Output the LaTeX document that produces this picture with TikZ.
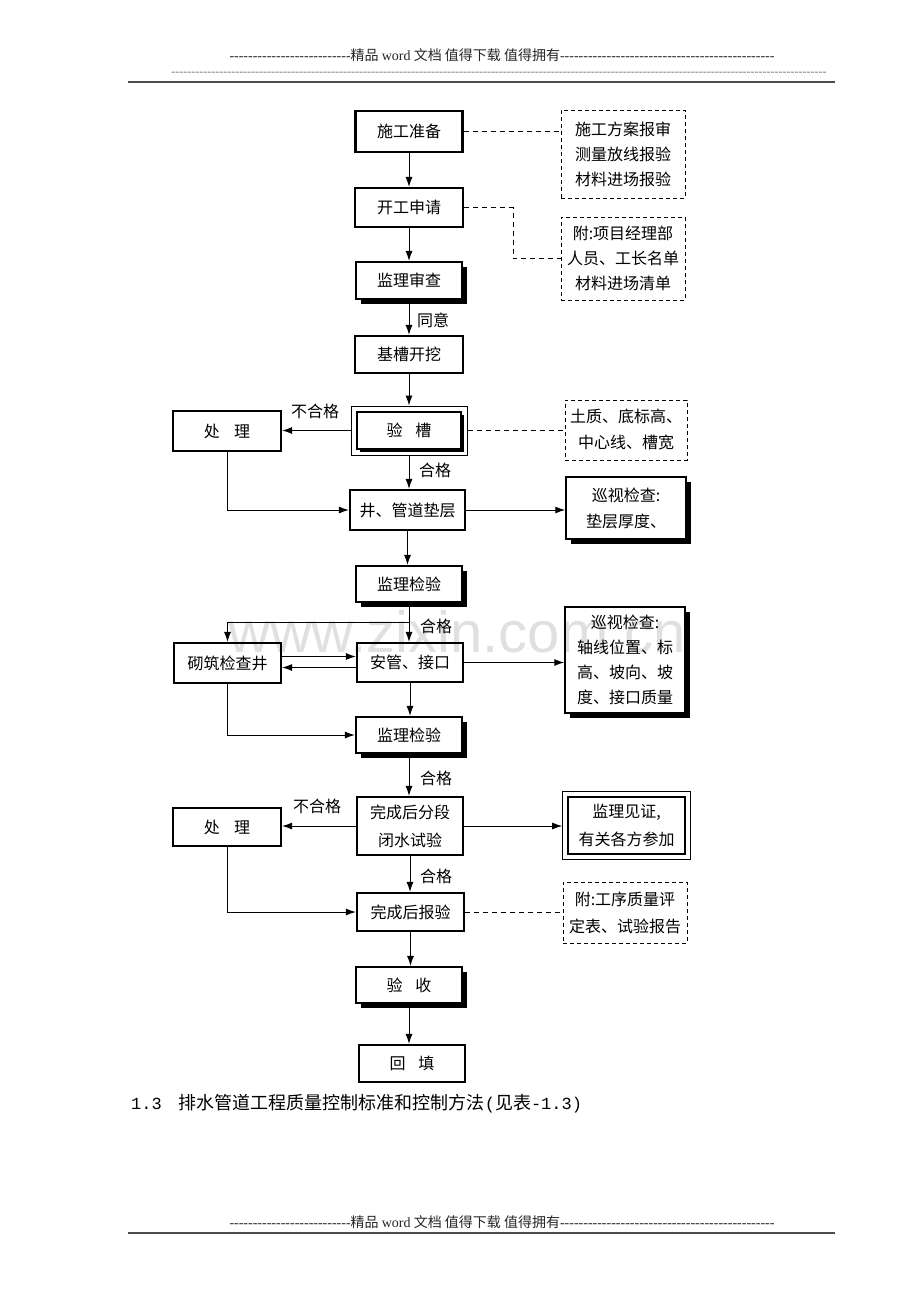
\documentclass[tikz,border=0pt]{standalone}
\usepackage{fontspec}
\setmainfont{Noto Sans CJK SC}
\newfontfamily\lat{Liberation Serif}
\newfontfamily\cjk{Noto Sans CJK SC}
\newfontfamily\mono{Liberation Mono}
\newfontfamily\wmfont{Liberation Sans}
\usetikzlibrary{arrows.meta,shadows,fit,calc}
\ExplSyntaxOn
\NewDocumentCommand\reph{m}{\prg_replicate:nn{#1}{-\kern0pt}}
\ExplSyntaxOff
\newcommand\mn[1]{{\mono\fontsize{17}{17}\selectfont #1}}
\tikzset{
  every node/.style={inner sep=0pt, font=\fontsize{16}{25}\selectfont},
  box/.style={draw, line width=2.2pt, fill=white, align=center},
  shbox/.style={box, drop shadow={shadow xshift=4.5pt, shadow yshift=-4.5pt, fill=black, opacity=1}},
  smshbox/.style={box, drop shadow={shadow xshift=2.5pt, shadow yshift=-2.5pt, fill=black, opacity=1}},
  dbox/.style={draw, line width=0.9pt, dash pattern=on 4pt off 3pt, fill=white, align=center},
  arr/.style={line width=1pt, -{Latex[length=10pt,width=7pt]}},
  dcon/.style={line width=1pt, dash pattern=on 5pt off 4pt},
  lbl/.style={font=\fontsize{16}{16}\selectfont}
}
\begin{document}
\begin{tikzpicture}[x=1pt,y=-1pt]
\useasboundingbox (0,0) rectangle (920,1302);
% header
\node[text=black!85, font=\fontsize{14}{14}\selectfont] (h1) at (502,55)
  {{\lat\reph{26}}{\cjk 精品} {\lat word} {\cjk 文档 值得下载 值得拥有}{\lat\reph{46}}};
\node[text=black!55, font=\lat\fontsize{12}{12}\selectfont] (h2) at (499,74) {\reph{164}};
\draw[line width=2pt, black!70] (128,82) -- (835,82);
% footer
\node[text=black!85, font=\fontsize{14}{14}\selectfont] (f1) at (502,1222)
  {{\lat\reph{26}}{\cjk 精品} {\lat word} {\cjk 文档 值得下载 值得拥有}{\lat\reph{46}}};
\draw[line width=2pt, black!70] (128,1233) -- (835,1233);
% caption
\node[anchor=base west, font=\fontsize{18}{18}\selectfont] (cap) at (131,1109)
  {\mn{1.3}\hspace{17pt}排水管道工程质量控制标准和控制方法\mn{(}见表\mn{-1.3)}};

% main column
\node[box, minimum width=107, minimum height=41] (n1) at (409,131.5) {施工准备};
\node[box, minimum width=108, minimum height=39] (n2) at (409,207.5) {开工申请};
\node[shbox, minimum width=106, minimum height=37] (n3) at (409,280.5) {监理审查};
\node[box, minimum width=108, minimum height=37] (n4) at (409,354.5) {基槽开挖};
\node[smshbox, minimum width=104, minimum height=37] (n5) at (409,430.5) {验\hspace{0.8em}槽};
\node[fit=(n5), draw, line width=0.8pt, inner sep=5pt] (n5o) {};
\node[box, minimum width=108, minimum height=40] (p1) at (227,431) {处\hspace{0.9em}理};
\node[box, minimum width=115, minimum height=40] (n6) at (407.5,510) {井、管道垫层};
\node[shbox, minimum width=106, minimum height=36] (n7) at (409,584) {监理检验};
\node[box, minimum width=107, minimum height=40] (q) at (227.5,663) {砌筑检查井};
\node[box, minimum width=106, minimum height=39] (n8) at (410,662.5) {安管、接口};
\node[shbox, minimum width=106, minimum height=36] (n9) at (409,735) {监理检验};
\node[box, minimum width=106, minimum height=58, font=\fontsize{16}{28}\selectfont] (n10) at (410,826) {完成后分段\\闭水试验};
\node[box, minimum width=108, minimum height=38] (p2) at (227,827) {处\hspace{0.9em}理};
\node[box, minimum width=107, minimum height=38] (n11) at (410.5,912) {完成后报验};
\node[shbox, minimum width=106, minimum height=36] (n12) at (409,985) {验\hspace{0.8em}收};
\node[box, minimum width=106, minimum height=37] (n13) at (412,1063.5) {回\hspace{0.8em}填};

% right column
\node[dbox, minimum width=124, minimum height=88] (d1) at (623,154) {施工方案报审\\测量放线报验\\材料进场报验};
\node[dbox, minimum width=124, minimum height=83] (d2) at (623,258.5) {附:项目经理部\\人员、工长名单\\材料进场清单};
\node[dbox, minimum width=122, minimum height=60, font=\fontsize{16}{26}\selectfont] (d3) at (626,430) {土质、底标高、\\中心线、槽宽};
\node[shbox, line width=1.5pt, minimum width=120, minimum height=62, font=\fontsize{16}{26}\selectfont] (s1) at (626,508) {巡视检查:\\垫层厚度、};
\node[shbox, line width=1.5pt, minimum width=120, minimum height=106] (s2) at (625,660) {巡视检查:\\轴线位置、标\\高、坡向、坡\\度、接口质量};
\node[box, line width=2.8pt, minimum width=117, minimum height=57, font=\fontsize{16}{28}\selectfont] (w) at (626.5,825.5) {监理见证,\\有关各方参加};
\node[fit=(w), draw, line width=0.8pt, inner sep=4pt] (wo) {};
\node[dbox, minimum width=124, minimum height=61, font=\fontsize{16}{27}\selectfont] (d4) at (625,912.5) {附:工序质量评\\定表、试验报告};

% vertical arrows
\draw[arr] (n1.south) -- (n1.south |- n2.north);
\draw[arr] (n2.south) -- (n2.south |- n3.north);
\draw[arr] (n3.south) -- (n3.south |- n4.north);
\draw[arr] (n4.south) -- (n4.south |- n5o.north);
\draw[arr] (n5o.south) -- (n5o.south |- n6.north);
\draw[arr] (n6.south) -- (n6.south |- n7.north);
\draw[arr] (n7.south) -- (n7.south |- n8.north);
\draw[arr] (n8.south) -- (n8.south |- n9.north);
\draw[arr] (n9.south) -- (n9.south |- n10.north);
\draw[arr] (n10.south) -- (n10.south |- n11.north);
\draw[arr] (n11.south) -- (n11.south |- n12.north);
\draw[arr] (n12.south) -- (n12.south |- n13.north);

% side connections
\draw[dcon] (n1.east) -- (n1.east -| d1.west);
\coordinate (k2) at (513,207.5);
\draw[dcon] (n2.east) -- (k2) |- (d2.west);
\draw[arr] (n5o.west) -- (n5o.west -| p1.east);
\draw[dcon] (n5o.east) -- (n5o.east -| d3.west);
\draw[arr] (p1.south) |- (n6.west);
\draw[arr] (n6.east) -- (n6.east -| s1.west);
\coordinate (br) at (409,622);
\draw[arr] (br) -| (q.north);
\draw[arr] ([yshift=6.5pt]q.east) -- ([yshift=6.5pt]q.east -| n8.west);
\draw[arr] ([yshift=-5pt]n8.west) -- ([yshift=-5pt]n8.west -| q.east);
\draw[arr] (n8.east) -- (n8.east -| s2.west);
\draw[arr] (q.south) |- (n9.west);
\draw[arr] (n10.west) -- (n10.west -| p2.east);
\draw[arr] (n10.east) -- (n10.east -| wo.west);
\draw[arr] (p2.south) |- (n11.west);
\draw[dcon] (n11.east) -- (n11.east -| d4.west);

% labels
\node[lbl, anchor=west] (l1) at (417,320) {同意};
\node[lbl] (l2) at (315,411) {不合格};
\node[lbl, anchor=west] (l3) at (419,470) {合格};
\node[lbl, anchor=west] (l4) at (420,626) {合格};
\node[lbl, anchor=west] (l5) at (420,778) {合格};
\node[lbl] (l6) at (317,806) {不合格};
\node[lbl, anchor=west] (l7) at (420,876) {合格};

% watermark
\node[anchor=base west, font=\wmfont\fontsize{58}{58}\selectfont, text=black, opacity=0.12] (wmk) at (228,652) {www.zixin.com.cn};
\end{tikzpicture}
\end{document}
